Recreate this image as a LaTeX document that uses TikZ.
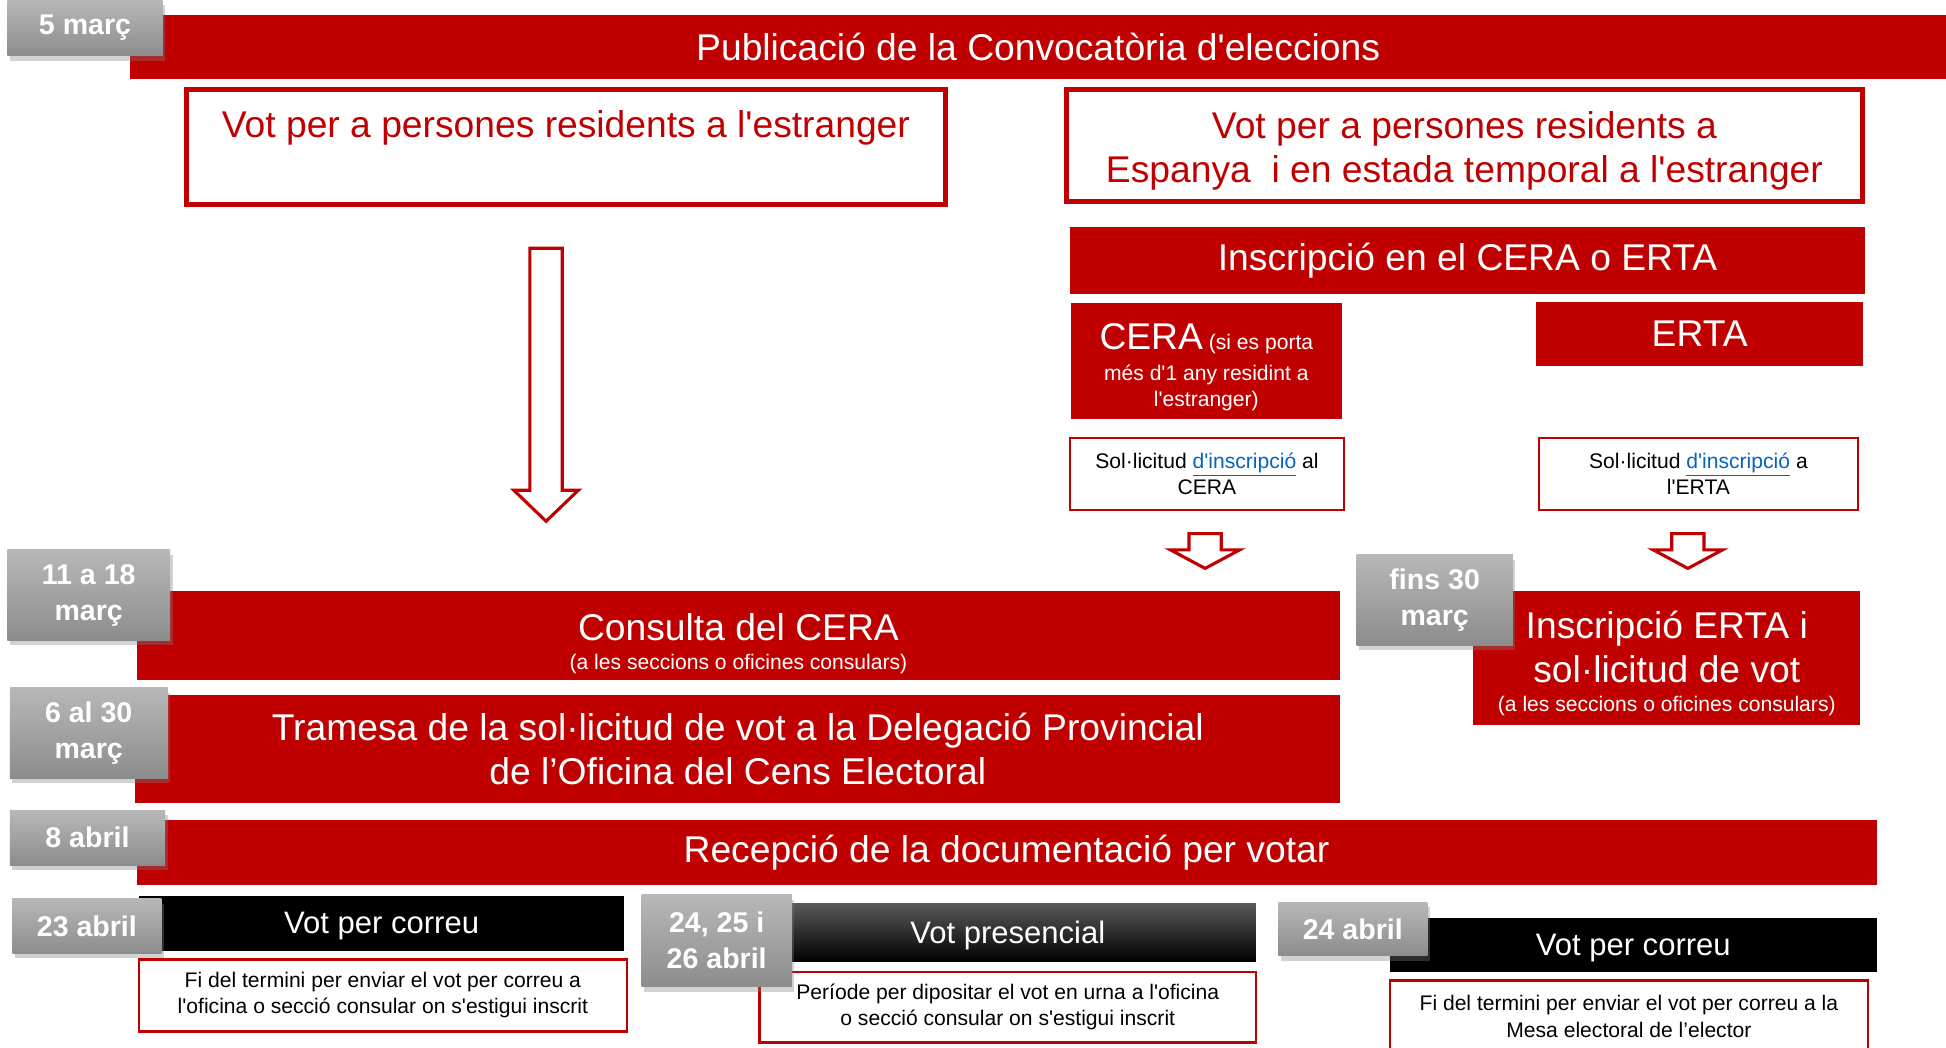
\documentclass[tikz,border=0pt]{standalone}
\usepackage{fontspec}
\setmainfont{Liberation Sans}[Ligatures=TeXOff]
\usetikzlibrary{positioning,shadows}
\definecolor{cerared}{RGB}{192,0,0}
\definecolor{linkblue}{RGB}{5,99,193}
\newcommand{\bigtxt}{\fontsize{30}{35}\selectfont}
\newcommand{\bartxt}{\fontsize{25}{30}\selectfont}
\newcommand{\smalltxt}{\fontsize{17}{21}\selectfont}
\newcommand{\datetxt}{\fontsize{23}{29}\selectfont\bfseries}
\newcommand{\lnk}[1]{\textcolor{linkblue}{\underline{#1}}}
\tikzstyle{redbar} = [fill=cerared, text=white, inner sep=0pt, align=center, font=\bigtxt]
\tikzstyle{blackbar} = [fill=black, text=white, inner sep=0pt, text depth=1pt, font=\bartxt]
\tikzstyle{outbox} = [draw=cerared, line width=4pt, fill=white, inner sep=0pt, align=center, text=cerared, font=\bigtxt]
\tikzstyle{thinbox} = [draw=cerared, line width=2pt, fill=white, inner sep=0pt, align=center, font=\smalltxt]
\tikzstyle{datebox} = [top color=black!28, bottom color=black!45, draw=none, text=white, inner sep=0pt, align=center, font=\datetxt, drop shadow={shadow xshift=2pt, shadow yshift=-4pt, opacity=0.35}]
\tikzstyle{blockarrow} = [draw=cerared, line width=2.5pt, fill=white, line join=miter]

\begin{document}
\begin{tikzpicture}[x=1pt, y=-1pt]
	\useasboundingbox[fill=white] (0,0) rectangle (1568,844);

	% top of the calendar
	\node[redbar, minimum width=1463pt, minimum height=52pt] (convoc) at (836.5,38) {Publicació de la Convocatòria d'eleccions};
	\node[outbox, minimum width=612pt, minimum height=93pt] (estr) at (456,118.5) {};
	\node[text=cerared, font=\bigtxt, inner sep=0pt, below=19pt of estr.north] (estrtxt) {Vot per a persones residents a l'estranger};
	\node[outbox, minimum width=642pt, minimum height=90pt] (espanya) at (1180,117) {\rule{0pt}{31pt}Vot per a persones residents a\\Espanya\ \ i en estada temporal a l'estranger};

	% inscripcio CERA / ERTA
	\node[redbar, minimum width=641pt, minimum height=54pt] (insc) at (1182.5,210) {Inscripció en el CERA o ERTA};
	\node[redbar, minimum width=218pt, minimum height=94pt, font=\smalltxt] (cera) at (972,291) {\rule{0pt}{30pt}{\bigtxt CERA} (si es porta\\[4pt]més d'1 any residint a\\l'estranger)};
	\node[redbar, minimum width=263pt, minimum height=52pt] (erta) at (1369.5,269) {ERTA};
	\node[thinbox, minimum width=221pt, minimum height=58pt] (solcera) at (972.5,382) {Sol·licitud \lnk{d'inscripció} al\\CERA};
	\node[thinbox, minimum width=257pt, minimum height=58pt] (solerta) at (1368.5,382) {Sol·licitud \lnk{d'inscripció} a\\l'ERTA};

	% block arrows
	\draw[blockarrow] (427,200) -- (453,200) -- (453,395) -- (466,395) -- (440,420) -- (414,395) -- (427,395) -- cycle;
	\draw[blockarrow] (958,430) -- (984,430) -- (984,443) -- (999,443) -- (971,458) -- (943,443) -- (958,443) -- cycle;
	\draw[blockarrow] (1347,430) -- (1373,430) -- (1373,443) -- (1388,443) -- (1360,458) -- (1332,443) -- (1347,443) -- cycle;

	% march
	\node[redbar, minimum width=970pt, minimum height=72pt] (consulta) at (595,512) {\rule{0pt}{35pt}Consulta del CERA\\[-11pt]{\smalltxt (a les seccions o oficines consulars)}};
	\node[redbar, minimum width=971pt, minimum height=87pt] (tramesa) at (594.5,603.5) {Tramesa de la sol·licitud de vot a la Delegació Provincial\\de l’Oficina del Cens Electoral};
	\node[redbar, minimum width=312pt, minimum height=108pt] (ertavot) at (1343,530) {\rule{0pt}{31pt}Inscripció ERTA i\\[1pt]sol·licitud de vot\\[-12pt]{\smalltxt (a les seccions o oficines consulars)}};

	% april
	\node[redbar, minimum width=1402pt, minimum height=52pt] (recepcio) at (811,687) {Recepció de la documentació per votar};
	\node[blackbar, minimum width=391pt, minimum height=44pt] (correu1) at (307.5,744) {Vot per correu};
	\node[thinbox, minimum width=393pt, minimum height=58pt] (termini1) at (308.5,802) {Fi del termini per enviar el vot per correu a\\l'oficina o secció consular on s'estigui inscrit};
	\node[blackbar, top color=black!65, middle color=black, bottom color=black, minimum width=400pt, minimum height=47pt] (presencial) at (812,751.5) {Vot presencial};
	\node[thinbox, minimum width=400pt, minimum height=57pt] (periode) at (812,811.5) {Període per dipositar el vot en urna a l'oficina\\o secció consular on s'estigui inscrit};
	\node[blackbar, minimum width=392pt, minimum height=43pt] (correu2) at (1316,761.5) {Vot per correu};
	\node[thinbox, minimum width=385pt, minimum height=58pt] (termini2) at (1312.5,819) {Fi del termini per enviar el vot per correu a la\\Mesa electoral de l’elector};

	% dates
	\node[datebox, minimum width=125pt, minimum height=45pt] (d1) at (68.5,22.5) {5 març};
	\node[datebox, minimum width=131pt, minimum height=73pt] (d2) at (71.5,479.5) {11 a 18\\març};
	\node[datebox, minimum width=127pt, minimum height=73pt] (d3) at (71.5,590.5) {6 al 30\\març};
	\node[datebox, minimum width=126pt, minimum height=73pt] (d4) at (1156,483.5) {fins 30\\març};
	\node[datebox, minimum width=125pt, minimum height=44pt] (d5) at (70.5,675) {8 abril};
	\node[datebox, minimum width=120pt, minimum height=44pt] (d6) at (70,746) {23 abril};
	\node[datebox, minimum width=121pt, minimum height=74pt] (d7) at (577.5,758) {24, 25 i\\26 abril};
	\node[datebox, minimum width=120pt, minimum height=43pt] (d8) at (1090,748.5) {24 abril};
\end{tikzpicture}
\end{document}
